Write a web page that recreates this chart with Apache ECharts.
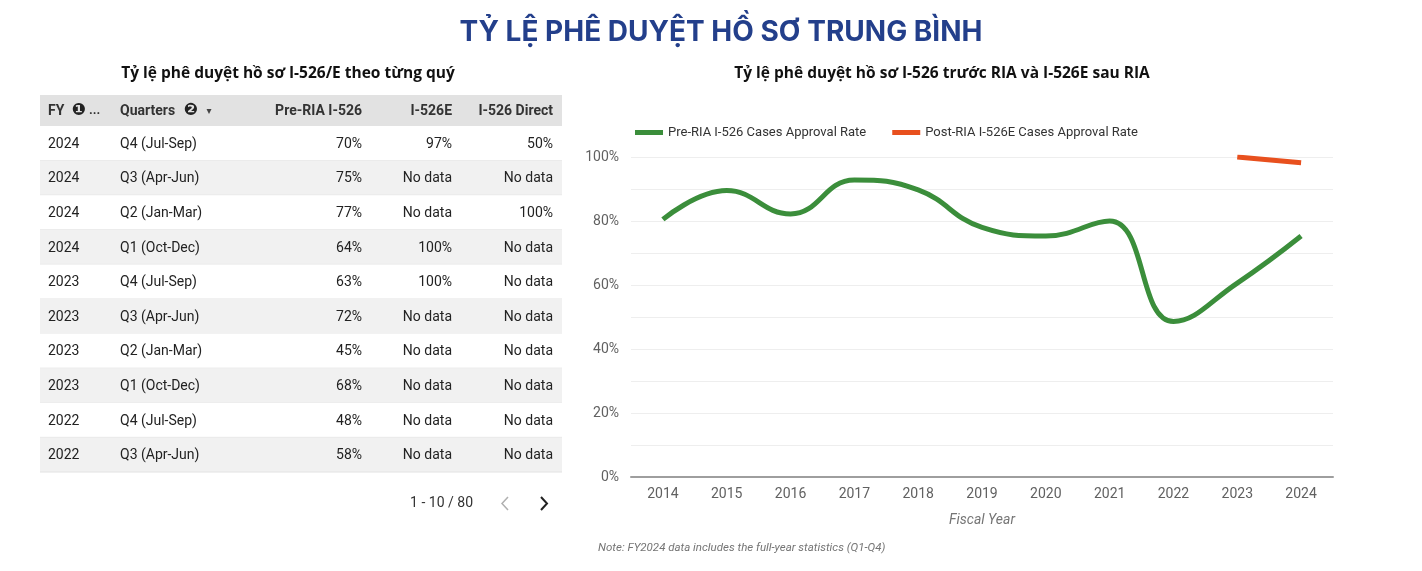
<!DOCTYPE html>
<html>
<head>
<meta charset="utf-8">
<script src="https://cdn.jsdelivr.net/npm/echarts@6/dist/echarts.min.js"></script>
<style>
html,body{margin:0;padding:0;background:#fff;}
#main{width:1422px;height:571px;}
</style>
</head>
<body>
<div id="main"></div>
<script>
// ---- Line chart data ----
var years = ['2014','2015','2016','2017','2018','2019','2020','2021','2022','2023','2024'];
var preRIA = [80.5, 89.5, 82.2, 92.8, 89.7, 78.0, 75.3, 80.0, 48.6, 60.6, 75.3];
var postRIA = [null, null, null, null, null, null, null, null, null, 100, 98.2];
var seriesNames = ['Pre-RIA I-526 Cases Approval Rate', 'Post-RIA I-526E Cases Approval Rate'];

// ---- Table data ----
var tableHeaders = ['FY', 'Quarters', 'Pre-RIA I-526', 'I-526E', 'I-526 Direct'];
var tableFY = ['2024','2024','2024','2024','2023','2023','2023','2023','2022','2022'];
var tableQuarters = ['Q4 (Jul-Sep)','Q3 (Apr-Jun)','Q2 (Jan-Mar)','Q1 (Oct-Dec)','Q4 (Jul-Sep)','Q3 (Apr-Jun)','Q2 (Jan-Mar)','Q1 (Oct-Dec)','Q4 (Jul-Sep)','Q3 (Apr-Jun)'];
var tablePre = ['70%','75%','77%','64%','63%','72%','45%','68%','48%','58%'];
var tableE = ['97%','No data','No data','100%','100%','No data','No data','No data','No data','No data'];
var tableDirect = ['50%','No data','100%','No data','No data','No data','No data','No data','No data','No data'];
var pagination = '1 - 10 / 80';

(function(){
var chart = echarts.init(document.getElementById('main'), null, {renderer:'canvas'});

var F = 'Roboto, "Noto Sans", sans-serif';
var graphics = [];
function txt(s, x, y, align, font, fill){
  graphics.push({type:'text', x:x, y:y, style:{text:s, textAlign:align, textVerticalAlign:'middle', font:font, fill:fill}, silent:true});
}

// table geometry
var tX = 40, tW = 522, headTop = 95, headH = 31, rowH = 34.6;
var colX = [48, 120, 362, 452, 553];
var colAlign = ['left','left','right','right','right'];

graphics.push({type:'rect', shape:{x:tX, y:headTop, width:tW, height:headH}, style:{fill:'#e2e2e2'}, silent:true});
var hy = headTop + headH/2 + 0.5;
tableHeaders.forEach(function(h, c){
  txt(h, colX[c], hy, colAlign[c], 'bold 14px '+F, '#333');
});
// header icons
txt('\u2776', 79, hy, 'center', 'bold 17px "DejaVu Sans", sans-serif', '#222');
txt('...', 89, hy, 'left', 'bold 13px '+F, '#333');
txt('\u2777', 191, hy, 'center', 'bold 17px "DejaVu Sans", sans-serif', '#222');
txt('\u25BE', 209, hy, 'center', '10px "DejaVu Sans", sans-serif', '#444');

var cols = [tableFY, tableQuarters, tablePre, tableE, tableDirect];
for (var r = 0; r < tableFY.length; r++) {
  var rowTop = headTop + headH + r*rowH;
  graphics.push({type:'rect', shape:{x:tX, y:rowTop, width:tW, height:rowH}, style:{fill: r%2===1 ? '#f1f1f1' : '#ffffff'}, silent:true});
  graphics.push({type:'line', shape:{x1:tX, y1:rowTop+rowH, x2:tX+tW, y2:rowTop+rowH}, style:{stroke:'#e2e2e2', lineWidth:1}, silent:true});
  for (var c = 0; c < cols.length; c++) {
    txt(cols[c][r], colX[c], rowTop+rowH/2+1, colAlign[c], '14px '+F, '#222');
  }
}
// pagination
txt(pagination, 473, 503, 'right', '14px '+F, '#333');
graphics.push({type:'polyline', shape:{points:[[508,497],[502,503.5],[508,510]]}, style:{stroke:'#b0b0b0', lineWidth:1.5, fill:'none'}, silent:true});
graphics.push({type:'polyline', shape:{points:[[541,497],[547,503.5],[541,510]]}, style:{stroke:'#222', lineWidth:2, fill:'none'}, silent:true});

// titles
txt('TỶ LỆ PHÊ DUYỆT HỒ SƠ TRUNG BÌNH', 721, 33, 'center', 'bold 28px Inter, "Open Sans", sans-serif', '#233f8b');
txt('Tỷ lệ phê duyệt hồ sơ I-526/E theo từng quý', 288, 74, 'center', 'bold 15.5px "Open Sans", sans-serif', '#111');
txt('Tỷ lệ phê duyệt hồ sơ I-526 trước RIA và I-526E sau RIA', 942, 74, 'center', 'bold 15.5px "Open Sans", sans-serif', '#111');
// note
txt('Note: FY2024 data includes the full-year statistics (Q1-Q4)', 598, 548, 'left', 'italic 11.5px '+F, '#757575');

var option = {
  backgroundColor:'#ffffff',
  animation:false,
  legend:{
    left:630, top:121,
    itemWidth:28, itemHeight:5, itemGap:26,
    icon:'rect',
    textStyle:{fontFamily:F, fontSize:13, color:'#333'},
    data: seriesNames
  },
  grid:{left:631, right:89, top:157, bottom:94, containLabel:false},
  xAxis:{
    type:'category', data: years, boundaryGap:true,
    axisLine:{show:true, lineStyle:{color:'#9e9e9e', width:2}},
    axisTick:{show:false},
    axisLabel:{fontFamily:F, fontSize:14, color:'#616161', margin:10},
    name:'Fiscal Year', nameLocation:'middle', nameGap:36,
    nameTextStyle:{fontFamily:F, fontSize:14, fontStyle:'italic', color:'#757575'}
  },
  yAxis:{
    type:'value', min:0, max:100, interval:10,
    axisLine:{show:false}, axisTick:{show:false},
    splitLine:{lineStyle:{color:'#eeeeee', width:1}},
    axisLabel:{fontFamily:F, fontSize:14, color:'#616161', margin:12,
      formatter:function(v){ return v % 20 === 0 ? v + '%' : ''; }}
  },
  series:[
    {name:seriesNames[0], type:'line', data:preRIA, smooth:0.45, showSymbol:false, symbol:'none',
     lineStyle:{width:5, color:'#3b8e3b'}, itemStyle:{color:'#3b8e3b'}},
    {name:seriesNames[1], type:'line', data:postRIA, smooth:0.45, showSymbol:false, symbol:'none', connectNulls:false,
     lineStyle:{width:5, color:'#e8501e'}, itemStyle:{color:'#e8501e'}}
  ],
  graphic: graphics
};
chart.setOption(option);
})();
</script>
</body>
</html>
